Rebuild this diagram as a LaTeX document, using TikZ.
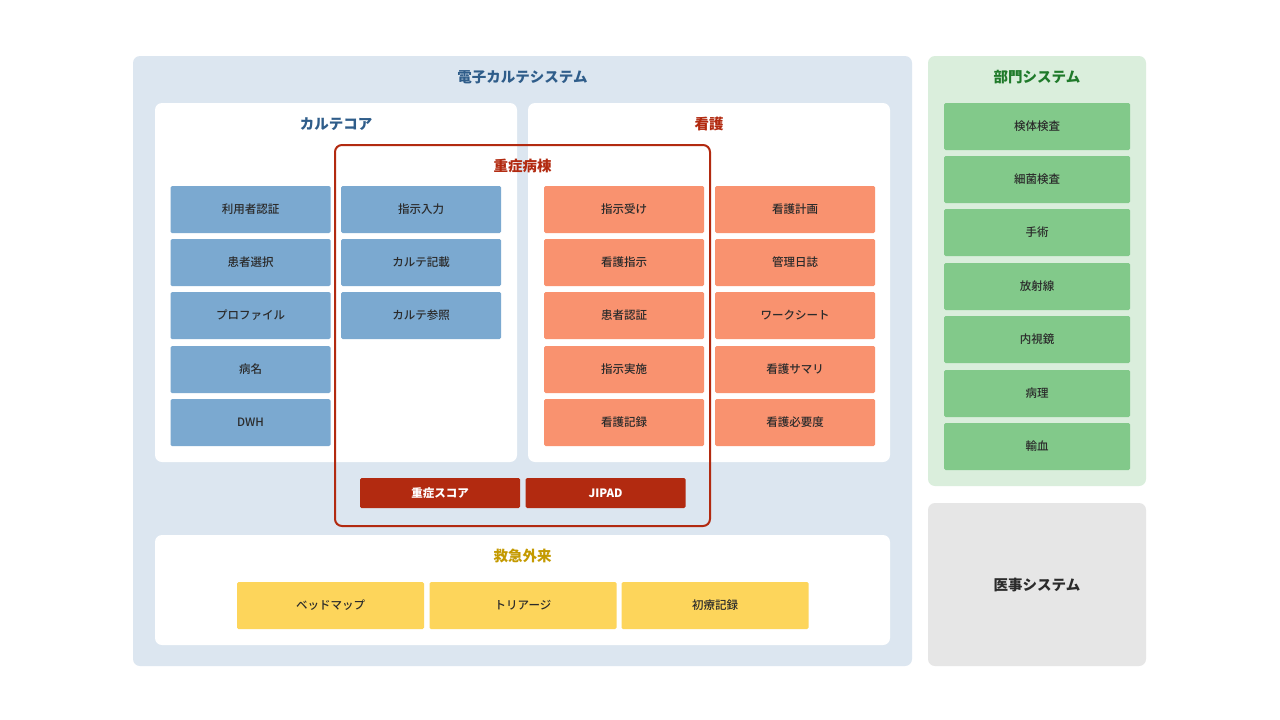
\documentclass[tikz,border=0pt]{standalone}
\usepackage{fontspec}
\setmainfont{Noto Sans CJK JP}
\newfontfamily\medfont{Noto Sans CJK JP Medium}
\usepackage{tikz}

\definecolor{ehrbg}{HTML}{DCE6F0}
\definecolor{ehrtitle}{HTML}{2F5D8A}
\definecolor{coreblue}{HTML}{7BA9D0}
\definecolor{nursered}{HTML}{B22A10}
\definecolor{nurseorange}{HTML}{F9926F}
\definecolor{ergold}{HTML}{C49A00}
\definecolor{eryellow}{HTML}{FDD55B}
\definecolor{deptbg}{HTML}{DAEEDC}
\definecolor{deptgreen}{HTML}{1F7A2A}
\definecolor{deptbox}{HTML}{82C98A}
\definecolor{medbg}{HTML}{E6E6E6}
\definecolor{boxtext}{HTML}{2B2B2B}

\tikzset{
  panel/.style={rectangle, rounded corners=7pt, inner sep=0pt},
  ptitle/.style={font=\fontsize{14.5}{16}\selectfont\bfseries},
  item/.style={rectangle, rounded corners=1.5pt, inner sep=0pt, minimum width=160pt, minimum height=47pt, text=boxtext, font=\fontsize{11.5}{13}\selectfont\medfont},
  corebox/.style={item, fill=coreblue},
  nursebox/.style={item, fill=nurseorange},
  icubox/.style={item, fill=nursered, text=white, minimum height=30pt, font=\fontsize{11.5}{13}\selectfont\bfseries},
  erbox/.style={item, fill=eryellow, minimum width=187pt},
  deptitem/.style={item, fill=deptbox, minimum width=186pt}
}

\begin{document}
\begin{tikzpicture}[x=1pt, y=-1pt]
    \useasboundingbox[fill=white] (0,0) rectangle (1280,720);

    % Electronic chart system
    \node[panel, fill=ehrbg, minimum width=779pt, minimum height=610pt] (ehr) at (522.5,361) {};
    \node[ptitle, text=ehrtitle] (ehr-label) at (522.5,77) {電子カルテシステム};

    \node[panel, fill=white, minimum width=362pt, minimum height=359pt] (core) at (336,282.5) {};
    \node[ptitle, text=ehrtitle] (core-label) at (336,124) {カルテコア};
    \node[panel, fill=white, minimum width=362pt, minimum height=359pt] (nurse) at (709,282.5) {};
    \node[ptitle, text=nursered] (nurse-label) at (709,124) {看護};

    % Chart core
    \node[corebox] (c1) at (250.5,209.5) {利用者認証};
    \node[corebox] (c2) at (250.5,262.5) {患者選択};
    \node[corebox] (c3) at (250.5,315.5) {プロファイル};
    \node[corebox] (c4) at (250.5,369.5) {病名};
    \node[corebox] (c5) at (250.5,422.5) {DWH};
    \node[corebox] (c6) at (421,209.5) {指示入力};
    \node[corebox] (c7) at (421,262.5) {カルテ記載};
    \node[corebox] (c8) at (421,315.5) {カルテ参照};

    % Nursing
    \node[nursebox] (n1) at (624,209.5) {指示受け};
    \node[nursebox] (n2) at (624,262.5) {看護指示};
    \node[nursebox] (n3) at (624,315.5) {患者認証};
    \node[nursebox] (n4) at (624,369.5) {指示実施};
    \node[nursebox] (n5) at (624,422.5) {看護記録};
    \node[nursebox] (n6) at (795,209.5) {看護計画};
    \node[nursebox] (n7) at (795,262.5) {管理日誌};
    \node[nursebox] (n8) at (795,315.5) {ワークシート};
    \node[nursebox] (n9) at (795,369.5) {看護サマリ};
    \node[nursebox] (n10) at (795,422.5) {看護必要度};

    % Intensive care ward
    \node[panel, draw=nursered, line width=2pt, minimum width=375pt, minimum height=381pt] (icu) at (522.5,335.5) {};
    \node[ptitle, text=nursered] (icu-label) at (522.5,166) {重症病棟};
    \node[icubox] (i1) at (440,493) {重症スコア};
    \node[icubox] (i2) at (605.5,493) {JIPAD};

    % Emergency outpatient
    \node[panel, fill=white, minimum width=735pt, minimum height=110pt] (er) at (522.5,590) {};
    \node[ptitle, text=ergold] (er-label) at (522.5,556) {救急外来};
    \node[erbox] (e1) at (330.5,605.5) {ベッドマップ};
    \node[erbox] (e2) at (523,605.5) {トリアージ};
    \node[erbox] (e3) at (715,605.5) {初療記録};

    % Department systems
    \node[panel, fill=deptbg, minimum width=218pt, minimum height=430pt] (dept) at (1037,271) {};
    \node[ptitle, text=deptgreen] (dept-label) at (1037,77) {部門システム};
    \foreach \name/\y [count=\i] in {検体検査/126.5, 細菌検査/179.5, 手術/232.5, 放射線/286.5, 内視鏡/339.5, 病理/393.5, 輸血/446.5}
        \node[deptitem] (d\i) at (1037,\y) {\name};

    % Medical affairs
    \node[panel, fill=medbg, minimum width=218pt, minimum height=163pt] (med) at (1037,584.5) {};
    \node[ptitle, text=boxtext] (med-label) at (1037,585) {医事システム};
\end{tikzpicture}
\end{document}
